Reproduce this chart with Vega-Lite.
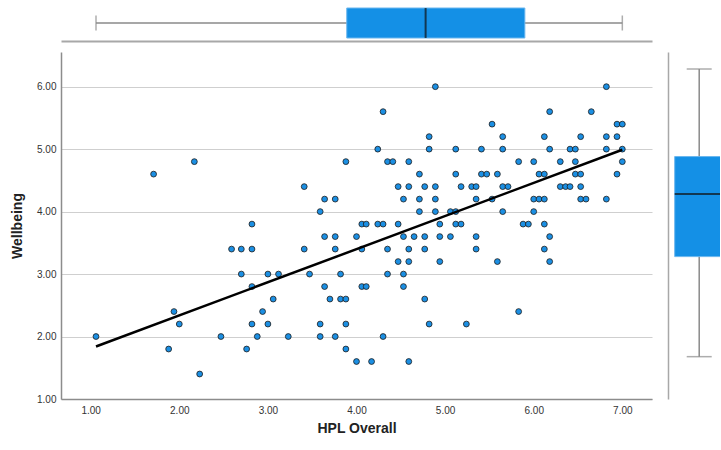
{
  "$schema": "https://vega.github.io/schema/vega-lite/v6.json",
  "padding": {"left": 10, "top": 5, "right": 0, "bottom": 0},
  "config": {"font": "Liberation Sans", "view": {"stroke": null}},
  "datasets": {
    "pts": [
      {"h":1.06,"w":2.0},{"h":1.71,"w":4.6},{"h":2.17,"w":4.8},{"h":1.94,"w":2.4},{"h":2.0,"w":2.2},{"h":1.88,"w":1.8},{"h":2.23,"w":1.4},{"h":2.47,"w":2.0},{"h":2.59,"w":3.4},{"h":2.70,"w":3.4},{"h":2.82,"w":3.4},{"h":2.82,"w":3.8},{"h":2.70,"w":3.0},{"h":2.82,"w":2.8},{"h":3.0,"w":3.0},{"h":3.12,"w":3.0},{"h":3.06,"w":2.6},{"h":2.94,"w":2.4},{"h":2.82,"w":2.2},{"h":3.0,"w":2.2},{"h":2.88,"w":2.0},{"h":2.76,"w":1.8},{"h":3.23,"w":2.0},{"h":3.41,"w":4.4},{"h":3.41,"w":3.4},{"h":3.47,"w":3.0},{"h":3.59,"w":4.0},{"h":3.64,"w":4.2},{"h":3.76,"w":4.2},{"h":3.64,"w":3.6},{"h":3.76,"w":3.6},{"h":3.76,"w":3.4},{"h":3.82,"w":3.0},{"h":3.64,"w":2.8},{"h":3.70,"w":2.6},{"h":3.82,"w":2.6},{"h":3.88,"w":2.6},{"h":3.59,"w":2.2},{"h":3.59,"w":2.0},{"h":3.76,"w":2.0},{"h":3.88,"w":2.2},{"h":3.88,"w":1.8},{"h":3.88,"w":4.8},{"h":4.0,"w":3.6},{"h":4.06,"w":3.8},{"h":4.11,"w":3.8},{"h":4.06,"w":3.4},{"h":4.06,"w":2.8},{"h":4.11,"w":2.8},{"h":4.0,"w":1.6},{"h":4.17,"w":1.6},
      {"h":4.89,"w":6.0},{"h":4.30,"w":5.6},{"h":4.24,"w":5.0},{"h":4.35,"w":4.8},{"h":4.41,"w":4.8},{"h":4.59,"w":4.8},{"h":4.82,"w":5.2},{"h":4.82,"w":5.0},{"h":4.71,"w":4.6},{"h":4.47,"w":4.4},{"h":4.59,"w":4.4},{"h":4.77,"w":4.4},{"h":4.89,"w":4.4},{"h":4.53,"w":4.2},{"h":4.71,"w":4.2},{"h":4.89,"w":4.2},{"h":4.71,"w":4.0},{"h":4.89,"w":4.0},{"h":4.24,"w":3.8},{"h":4.30,"w":3.8},{"h":4.47,"w":3.8},{"h":4.53,"w":3.6},{"h":4.65,"w":3.6},{"h":4.77,"w":3.6},{"h":4.94,"w":3.8},{"h":4.94,"w":3.6},{"h":4.35,"w":3.4},{"h":4.59,"w":3.4},{"h":4.77,"w":3.4},{"h":4.47,"w":3.2},{"h":4.59,"w":3.2},{"h":4.35,"w":3.0},{"h":4.53,"w":3.0},{"h":4.53,"w":2.8},{"h":4.77,"w":2.6},{"h":4.82,"w":2.2},{"h":4.30,"w":2.0},{"h":4.59,"w":1.6},{"h":4.94,"w":3.2},
      {"h":5.12,"w":5.0},{"h":5.41,"w":5.0},{"h":5.53,"w":5.4},{"h":5.65,"w":5.2},{"h":5.65,"w":5.0},{"h":5.12,"w":4.6},{"h":5.41,"w":4.6},{"h":5.47,"w":4.6},{"h":5.59,"w":4.6},{"h":5.18,"w":4.4},{"h":5.30,"w":4.4},{"h":5.35,"w":4.4},{"h":5.65,"w":4.4},{"h":5.71,"w":4.4},{"h":5.35,"w":4.2},{"h":5.53,"w":4.2},{"h":5.06,"w":4.0},{"h":5.12,"w":4.0},{"h":5.65,"w":4.0},{"h":5.12,"w":3.8},{"h":5.18,"w":3.8},{"h":5.06,"w":3.6},{"h":5.35,"w":3.6},{"h":5.35,"w":3.4},{"h":5.59,"w":3.2},{"h":5.24,"w":2.2},{"h":5.83,"w":4.8},{"h":5.83,"w":2.4},
      {"h":6.0,"w":4.8},{"h":6.12,"w":5.2},{"h":6.18,"w":5.6},{"h":6.18,"w":5.0},{"h":6.06,"w":4.6},{"h":6.12,"w":4.6},{"h":6.0,"w":4.2},{"h":6.06,"w":4.2},{"h":6.12,"w":4.2},{"h":6.0,"w":4.0},{"h":5.88,"w":3.8},{"h":5.94,"w":3.8},{"h":6.12,"w":3.8},{"h":6.18,"w":3.6},{"h":6.12,"w":3.4},{"h":6.18,"w":3.2},{"h":6.30,"w":4.8},{"h":6.30,"w":4.4},{"h":6.36,"w":4.4},{"h":6.41,"w":4.4},{"h":6.41,"w":5.0},{"h":6.47,"w":5.0},{"h":6.47,"w":4.8},{"h":6.47,"w":4.6},{"h":6.53,"w":4.6},{"h":6.53,"w":4.4},{"h":6.53,"w":5.2},{"h":6.53,"w":4.2},{"h":6.59,"w":4.2},{"h":6.65,"w":5.6},{"h":6.82,"w":6.0},{"h":6.82,"w":5.2},{"h":6.82,"w":5.0},{"h":6.82,"w":4.2},{"h":6.94,"w":5.4},{"h":7.0,"w":5.4},{"h":6.94,"w":5.2},{"h":7.0,"w":5.0},{"h":7.0,"w":4.8},{"h":6.94,"w":4.6}
    ],
    "fit": [{"h":1.06,"w":1.84},{"h":7.0,"w":4.99}],
    "boxH": [{"var":"HPL Overall","lo":1.06,"q1":3.89,"med":4.78,"q3":5.9,"hi":7.0}],
    "boxW": [{"var":"Wellbeing","lo":1.4,"q1":3.0,"med":4.0,"q3":4.6,"hi":6.0}]
  },
  "columns": 2,
  "bounds": "flush",
  "spacing": {"row": 11, "column": 16},
  "concat": [
    {
      "width": 591, "height": 36,
      "data": {"name": "boxH"},
      "encoding": {
        "y": {"field": "var", "type": "nominal", "scale": {"type": "point"}, "axis": null}
      },
      "layer": [
        {"mark": {"type": "rule", "color": "#8a8a8a", "strokeWidth": 1.5},
         "encoding": {"x": {"field": "lo", "type": "quantitative", "scale": {"domain": [0.665, 7.335], "nice": false, "zero": false},
                            "axis": {"title": null, "labels": false, "ticks": false, "grid": false, "domain": true, "domainColor": "#a8a8a8", "domainWidth": 2}},
                      "x2": {"field": "hi"}}},
        {"mark": {"type": "tick", "orient": "vertical", "size": 15, "thickness": 1.5, "color": "#8a8a8a"},
         "encoding": {"x": {"field": "lo", "type": "quantitative"}}},
        {"mark": {"type": "tick", "orient": "vertical", "size": 15, "thickness": 1.5, "color": "#8a8a8a"},
         "encoding": {"x": {"field": "hi", "type": "quantitative"}}},
        {"mark": {"type": "bar", "size": 30, "color": "#1490e6", "stroke": "#6ab6ee", "strokeWidth": 1},
         "encoding": {"x": {"field": "q1", "type": "quantitative"}, "x2": {"field": "q3"}}},
        {"mark": {"type": "tick", "orient": "vertical", "size": 30, "thickness": 2, "color": "#111111"},
         "encoding": {"x": {"field": "med", "type": "quantitative"}}}
      ]
    },
    {
      "width": 52, "height": 36,
      "data": {"values": [{"a": 1}]},
      "mark": {"type": "text"},
      "encoding": {"text": {"value": ""}}
    },
    {
      "width": 591, "height": 347,
      "layer": [
        {"data": {"name": "pts"},
         "mark": {"type": "circle", "size": 34, "color": "#1b8fe3", "stroke": "#1c1c1c", "strokeWidth": 0.8, "opacity": 1},
         "encoding": {
           "x": {"field": "h", "type": "quantitative", "scale": {"domain": [0.665, 7.335], "nice": false, "zero": false},
                 "axis": {"title": "HPL Overall", "values": [1,2,3,4,5,6,7], "format": ".2f", "ticks": false, "grid": false,
                          "domainColor": "#8c8c8c", "domainWidth": 1.5, "labelFontSize": 10, "labelColor": "#333333", "labelPadding": 6,
                          "titleFontSize": 14, "titleFontWeight": "bold", "titleColor": "#222222", "titlePadding": 6}},
           "y": {"field": "w", "type": "quantitative", "scale": {"domain": [1.0, 6.555], "nice": false, "zero": false},
                 "axis": {"title": "Wellbeing", "values": [1,2,3,4,5,6], "format": ".2f", "ticks": false, "grid": true,
                          "gridColor": "#cfcfcf", "gridWidth": 1, "domainColor": "#8c8c8c", "domainWidth": 1.5,
                          "labelFontSize": 10, "labelColor": "#333333", "labelPadding": 5,
                          "titleFontSize": 14, "titleFontWeight": "bold", "titleColor": "#222222", "titlePadding": 12}}
         }},
        {"data": {"name": "fit"},
         "mark": {"type": "line", "color": "#000000", "strokeWidth": 2.5},
         "encoding": {"x": {"field": "h", "type": "quantitative"}, "y": {"field": "w", "type": "quantitative"}}}
      ]
    },
    {
      "width": 52, "height": 347,
      "data": {"name": "boxW"},
      "encoding": {
        "x": {"field": "var", "type": "nominal", "scale": {"type": "point", "align": 0.6}, "axis": null}
      },
      "layer": [
        {"mark": {"type": "rule", "color": "#8a8a8a", "strokeWidth": 1.5},
         "encoding": {"y": {"field": "lo", "type": "quantitative", "scale": {"domain": [0.723, 6.272], "nice": false, "zero": false},
                            "axis": {"title": null, "labels": false, "ticks": false, "grid": false, "domain": true, "domainColor": "#a8a8a8", "domainWidth": 1.5}},
                      "y2": {"field": "hi"}}},
        {"mark": {"type": "tick", "orient": "horizontal", "size": 25, "thickness": 1.5, "color": "#8a8a8a"},
         "encoding": {"y": {"field": "lo", "type": "quantitative"}}},
        {"mark": {"type": "tick", "orient": "horizontal", "size": 25, "thickness": 1.5, "color": "#8a8a8a"},
         "encoding": {"y": {"field": "hi", "type": "quantitative"}}},
        {"mark": {"type": "bar", "size": 49, "clip": true, "color": "#1490e6", "stroke": "#6ab6ee", "strokeWidth": 1},
         "encoding": {"y": {"field": "q1", "type": "quantitative"}, "y2": {"field": "q3"}}},
        {"mark": {"type": "tick", "orient": "horizontal", "size": 49, "thickness": 2, "clip": true, "color": "#111111"},
         "encoding": {"y": {"field": "med", "type": "quantitative"}}}
      ]
    }
  ]
}
